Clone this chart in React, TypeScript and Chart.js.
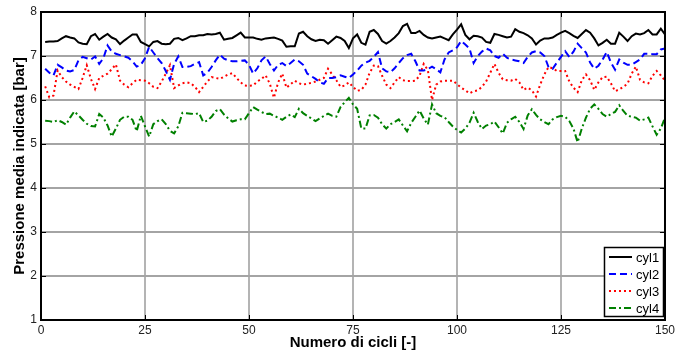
import React, { useEffect, useRef } from 'react';
import { Chart, registerables } from 'chart.js';
Chart.register(...registerables);

const cycles: number[] = Array.from({ length: 150 }, (_, i) => i + 1);
const xTicks = [0, 25, 50, 75, 100, 125, 150];
const yTicks = [1, 2, 3, 4, 5, 6, 7, 8];
const seriesNames = ['cyl1', 'cyl2', 'cyl3', 'cyl4'];

const cyl1 = [
  7.32, 7.33, 7.33, 7.34, 7.40, 7.45, 7.42, 7.40, 7.31, 7.28,
  7.27, 7.45, 7.50, 7.37, 7.44, 7.50, 7.42, 7.38, 7.27, 7.35,
  7.42, 7.49, 7.49, 7.32, 7.27, 7.22, 7.32, 7.34, 7.28, 7.27,
  7.28, 7.39, 7.41, 7.36, 7.40, 7.45, 7.45, 7.47, 7.47, 7.50,
  7.49, 7.50, 7.53, 7.37, 7.39, 7.41, 7.47, 7.53, 7.42, 7.42,
  7.42, 7.39, 7.37, 7.40, 7.41, 7.42, 7.39, 7.35, 7.21, 7.22,
  7.22, 7.51, 7.55, 7.45, 7.38, 7.34, 7.37, 7.36, 7.28, 7.36,
  7.44, 7.41, 7.34, 7.18, 7.40, 7.49, 7.30, 7.26, 7.55, 7.59,
  7.50, 7.34, 7.28, 7.34, 7.42, 7.52, 7.68, 7.73, 7.52, 7.52,
  7.57, 7.48, 7.42, 7.40, 7.42, 7.44, 7.40, 7.36, 7.49, 7.60,
  7.72, 7.48, 7.38, 7.46, 7.45, 7.42, 7.32, 7.30, 7.50, 7.48,
  7.45, 7.42, 7.44, 7.61, 7.55, 7.52, 7.47, 7.40, 7.26, 7.35,
  7.40, 7.40, 7.42, 7.48, 7.53, 7.57, 7.52, 7.46, 7.41, 7.50,
  7.59, 7.53, 7.40, 7.24, 7.30, 7.37, 7.28, 7.28, 7.53, 7.44,
  7.34, 7.45, 7.51, 7.49, 7.52, 7.59, 7.49, 7.49, 7.62, 7.49,
];

const cyl2 = [
  6.71, 6.62, 6.56, 6.80, 6.74, 6.67, 6.65, 6.68, 6.90, 6.98,
  6.95, 6.92, 6.99, 6.82, 6.95, 7.24, 7.10, 7.05, 7.02, 6.99,
  6.96, 6.88, 6.76, 6.80, 6.95, 7.21, 7.08, 6.95, 6.84, 6.66,
  6.46, 6.82, 6.99, 6.75, 6.75, 6.77, 6.82, 6.86, 6.56, 6.62,
  6.75, 6.90, 7.03, 6.94, 6.90, 6.88, 6.88, 6.89, 6.90, 6.80,
  6.60, 6.72, 6.90, 6.99, 6.82, 6.67, 6.80, 6.84, 6.77, 6.84,
  6.92, 6.88, 6.80, 6.60, 6.54, 6.48, 6.40, 6.37, 6.50, 6.50,
  6.52, 6.56, 6.53, 6.50, 6.58, 6.67, 6.78, 6.85, 6.89, 6.98,
  7.09, 6.72, 6.65, 6.63, 6.72, 6.84, 6.95, 7.02, 7.05, 6.88,
  6.67, 6.67, 6.70, 6.76, 6.70, 6.63, 6.92, 7.08, 7.13, 7.20,
  7.34, 7.26, 7.17, 6.84, 7.00, 7.10, 7.17, 7.13, 7.00, 6.96,
  7.05, 6.96, 6.92, 6.90, 6.88, 6.84, 6.98, 7.08, 7.11, 7.08,
  7.00, 6.75, 6.71, 6.85, 6.98, 7.11, 6.98, 7.10, 7.28, 7.18,
  7.08, 6.85, 6.71, 6.78, 6.92, 7.09, 6.85, 6.69, 6.92, 6.85,
  6.80, 6.80, 6.86, 6.92, 7.05, 7.05, 7.04, 7.04, 7.15, 7.17,
];

const cyl3 = [
  6.31, 6.06, 6.10, 6.67, 6.52, 6.42, 6.35, 6.30, 6.25, 6.50,
  6.79, 6.48, 6.25, 6.50, 6.55, 6.60, 6.70, 6.81, 6.44, 6.35,
  6.29, 6.38, 6.46, 6.45, 6.44, 6.38, 6.30, 6.27, 6.42, 6.60,
  6.79, 6.27, 6.33, 6.38, 6.40, 6.38, 6.30, 6.18, 6.30, 6.42,
  6.52, 6.50, 6.48, 6.53, 6.58, 6.61, 6.50, 6.40, 6.33, 6.32,
  6.33, 6.42, 6.48, 6.56, 6.37, 6.05, 6.40, 6.60, 6.28, 6.36,
  6.44, 6.38, 6.35, 6.37, 6.39, 6.42, 6.46, 6.50, 6.71, 6.58,
  6.45, 6.30, 6.33, 6.40, 6.30, 6.21, 6.23, 6.35, 6.62, 6.78,
  6.77, 6.55, 6.35, 6.27, 6.40, 6.52, 6.45, 6.43, 6.43, 6.44,
  6.55, 6.82, 6.68, 6.00, 6.35, 6.42, 6.44, 6.44, 6.44, 6.36,
  6.28, 6.22, 6.15, 6.20, 6.22, 6.30, 6.42, 6.62, 6.82, 6.62,
  6.47, 6.45, 6.44, 6.48, 6.40, 6.23, 6.28, 6.22, 6.08, 6.35,
  6.58, 6.75, 6.72, 6.66, 6.66, 6.66, 6.42, 6.28, 6.18, 6.45,
  6.58, 6.45, 6.23, 6.40, 6.52, 6.53, 6.38, 6.20, 6.24, 6.30,
  6.37, 6.60, 6.76, 6.46, 6.40, 6.38, 6.55, 6.66, 6.56, 6.44,
];

const cyl4 = [
  5.53, 5.52, 5.50, 5.54, 5.50, 5.44, 5.60, 5.74, 5.65, 5.55,
  5.46, 5.41, 5.40, 5.68, 5.60, 5.42, 5.17, 5.35, 5.55, 5.62,
  5.62, 5.55, 5.29, 5.64, 5.40, 5.17, 5.45, 5.52, 5.56, 5.45,
  5.30, 5.24, 5.40, 5.71, 5.70, 5.69, 5.68, 5.70, 5.50, 5.53,
  5.62, 5.75, 5.79, 5.67, 5.58, 5.51, 5.54, 5.56, 5.56, 5.70,
  5.84, 5.78, 5.73, 5.68, 5.69, 5.64, 5.60, 5.55, 5.62, 5.67,
  5.61, 5.80, 5.70, 5.64, 5.58, 5.52, 5.58, 5.64, 5.69, 5.64,
  5.62, 5.84, 5.95, 6.05, 5.90, 5.80, 5.35, 5.35, 5.65, 5.66,
  5.60, 5.45, 5.35, 5.45, 5.50, 5.56, 5.42, 5.29, 5.48, 5.62,
  5.76, 5.58, 5.44, 5.90, 5.70, 5.64, 5.61, 5.50, 5.40, 5.32,
  5.26, 5.35, 5.48, 5.71, 5.50, 5.34, 5.42, 5.45, 5.51, 5.38,
  5.24, 5.48, 5.56, 5.62, 5.50, 5.34, 5.65, 5.79, 5.66, 5.56,
  5.50, 5.45, 5.56, 5.61, 5.64, 5.62, 5.52, 5.35, 5.04, 5.35,
  5.60, 5.80, 5.90, 5.80, 5.68, 5.62, 5.68, 5.73, 5.88, 5.75,
  5.64, 5.62, 5.60, 5.53, 5.56, 5.60, 5.40, 5.21, 5.35, 5.60,
];

const FONT = '"Liberation Sans", Arial, sans-serif';

const styles = [
  { color: '#000000', dash: [] as number[], width: 2 },
  { color: '#0000ff', dash: [7, 4], width: 2 },
  { color: '#ff0000', dash: [2, 3], width: 2 },
  { color: '#008000', dash: [7, 3, 2, 3], width: 2 },
];

const framePlugin = {
  id: 'matlabFrame',
  afterDraw(chart: any) {
    const { ctx, chartArea, scales } = chart;
    const { left, right, top, bottom } = chartArea;
    const xs = scales.x;
    const ys = scales.y;
    ctx.save();
    ctx.strokeStyle = '#000';
    ctx.lineWidth = 1;
    ctx.setLineDash([]);
    ctx.beginPath();
    xTicks.forEach((v) => {
      const px = Math.round(xs.getPixelForValue(v)) + 0.5;
      ctx.moveTo(px, bottom);
      ctx.lineTo(px, bottom - 5);
      ctx.moveTo(px, top);
      ctx.lineTo(px, top + 5);
    });
    yTicks.forEach((v) => {
      const py = Math.round(ys.getPixelForValue(v)) + 0.5;
      ctx.moveTo(left, py);
      ctx.lineTo(left + 5, py);
      ctx.moveTo(right, py);
      ctx.lineTo(right - 5, py);
    });
    ctx.stroke();

    // legend box
    const bw = 60;
    const bh = 70;
    const bx = right - bw - 1;
    const by = bottom - 3 - bh;
    ctx.fillStyle = '#fff';
    ctx.fillRect(bx, by, bw, bh);
    ctx.lineWidth = 1.5;
    ctx.strokeStyle = '#000';
    ctx.strokeRect(bx + 0.5, by + 0.5, bw - 1, bh - 1);
    ctx.font = `13px ${FONT}`;
    ctx.textBaseline = 'middle';
    ctx.textAlign = 'left';
    seriesNames.forEach((name, i) => {
      const st = styles[i];
      const yy = by + 10 + i * 17;
      ctx.beginPath();
      ctx.strokeStyle = st.color;
      ctx.lineWidth = st.width;
      ctx.setLineDash(st.dash);
      ctx.moveTo(bx + 5, yy);
      ctx.lineTo(bx + 28, yy);
      ctx.stroke();
      ctx.setLineDash([]);
      ctx.fillStyle = '#000';
      ctx.fillText(name, bx + 32, yy + 1);
    });

    // frame
    ctx.strokeStyle = '#000';
    ctx.lineWidth = 2;
    ctx.setLineDash([]);
    ctx.strokeRect(left, top, right - left, bottom - top);
    ctx.restore();
  },
};

export default function App() {
  const ref = useRef<HTMLCanvasElement | null>(null);
  useEffect(() => {
    if (!ref.current) return;
    const all = [cyl1, cyl2, cyl3, cyl4];
    const chart = new Chart(ref.current, {
      type: 'line',
      data: {
        datasets: all.map((vals, i) => ({
          label: seriesNames[i],
          data: vals.map((v, j) => ({ x: cycles[j], y: v })),
          borderColor: styles[i].color,
          borderWidth: styles[i].width,
          borderDash: styles[i].dash,
          pointRadius: 0,
          tension: 0,
          fill: false,
        })),
      },
      options: {
        animation: false,
        responsive: true,
        maintainAspectRatio: false,
        layout: { padding: { top: 12, right: 11, left: 0, bottom: 0 } },
        plugins: { legend: { display: false }, tooltip: { enabled: false } },
        scales: {
          x: {
            type: 'linear',
            min: 0,
            max: 150,
            afterBuildTicks: (s: any) => {
              s.ticks = xTicks.map((v) => ({ value: v }));
            },
            afterFit: (s: any) => {
              s.height = 33;
            },
            ticks: { color: '#222', font: { family: FONT, size: 12 }, padding: 3, maxRotation: 0 },
            grid: { color: '#b4b4b4', lineWidth: 2, drawTicks: false },
            border: { display: false },
            title: {
              display: true,
              text: 'Numero di cicli [-]',
              color: '#000',
              font: { family: FONT, size: 15, weight: 'bold' },
              padding: { top: 0, bottom: 1 },
            },
          },
          y: {
            type: 'linear',
            min: 1,
            max: 8,
            afterBuildTicks: (s: any) => {
              s.ticks = yTicks.map((v) => ({ value: v }));
            },
            afterFit: (s: any) => {
              s.width = 41;
            },
            ticks: { color: '#222', font: { family: FONT, size: 12 }, padding: 4 },
            grid: { color: '#a4a4a4', lineWidth: 2, drawTicks: false },
            border: { display: false },
            title: {
              display: true,
              text: 'Pressione media indicata [bar]',
              color: '#000',
              font: { family: FONT, size: 15, weight: 'bold' },
              padding: { top: 11, bottom: 0 },
            },
          },
        },
      },
      plugins: [framePlugin],
    } as any);
    return () => chart.destroy();
  }, []);
  return (
    <div style={{ position: 'absolute', left: 0, top: 0, width: 678, height: 353, background: '#fff' }}>
      <canvas ref={ref} />
    </div>
  );
}
